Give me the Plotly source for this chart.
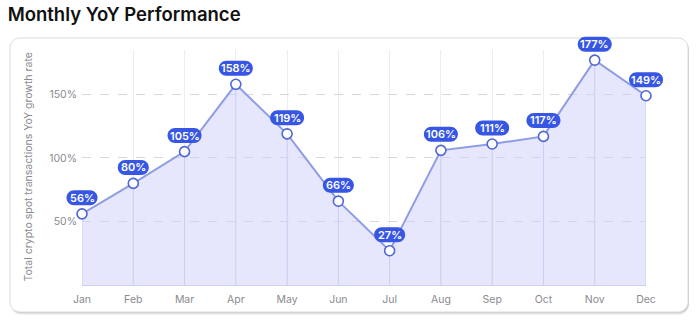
import plotly.graph_objects as go

months = ["Jan", "Feb", "Mar", "Apr", "May", "Jun", "Jul", "Aug", "Sep", "Oct", "Nov", "Dec"]
growth = [56, 80, 105, 158, 119, 66, 27, 106, 111, 117, 177, 149]
y_ticks = [50, 100, 150]
y_tick_text = ["50%", "100%", "150%"]

W, H = 697, 325
M_L, M_R, M_T, M_B = 82, 51, 50, 40
Y_MAX = 185
X_MAX = len(months) - 1

LINE = "#8e9ce4"
MARK_EDGE = "#4f66d6"
PILL = "#3656e3"
FILL = "rgba(210,212,250,0.55)"
DROP = "#c6c9e8"
GRID = "#ececf2"
TXT_GREY = "#8a8a8f"

fig = go.Figure()

# drop lines from the baseline to every point
dx, dy = [], []
for m, v in zip(months, growth):
    dx += [m, m, None]
    dy += [0, v, None]
fig.add_trace(go.Scatter(x=dx, y=dy, mode="lines", line=dict(color=DROP, width=1),
                         hoverinfo="skip", showlegend=False))

# filled growth line
fig.add_trace(go.Scatter(
    x=months, y=growth, mode="lines+markers", fill="tozeroy", fillcolor=FILL,
    line=dict(color=LINE, width=2),
    marker=dict(size=10, color="white", line=dict(color=MARK_EDGE, width=1.6)),
    cliponaxis=False, showlegend=False,
))


def rounded_rect(l, r, t, b, rad):
    k = 0.5523 * rad
    return (
        f"M {l + rad},{t} L {r - rad},{t} "
        f"C {r - rad + k},{t} {r},{t - rad + k} {r},{t - rad} "
        f"L {r},{b + rad} "
        f"C {r},{b + rad - k} {r - rad + k},{b} {r - rad},{b} "
        f"L {l + rad},{b} "
        f"C {l + rad - k},{b} {l},{b + rad - k} {l},{b + rad} "
        f"L {l},{t - rad} "
        f"C {l},{t - rad + k} {l + rad - k},{t} {l + rad},{t} Z"
    )


shapes = []
annotations = []

# card behind the chart (soft shadow + white panel with a light border)
card_l, card_r = 10 - M_L, 688 - M_L
card_t, card_b = (H - M_B) - 38, (H - M_B) - 312

for off, alpha in [(3, 0.05), (2, 0.07), (1, 0.09)]:
    shapes.append(dict(
        type="path", xref="paper", yref="paper", xsizemode="pixel", ysizemode="pixel",
        xanchor=0, yanchor=0, layer="below",
        path=rounded_rect(card_l + 1, card_r + 1, card_t - off, card_b - off, 10),
        fillcolor=f"rgba(0,0,0,{alpha})", line=dict(width=0),
    ))
shapes.append(dict(
    type="path", xref="paper", yref="paper", xsizemode="pixel", ysizemode="pixel",
    xanchor=0, yanchor=0, layer="below",
    path=rounded_rect(card_l, card_r, card_t, card_b, 10),
    fillcolor="white", line=dict(color="#dcdce0", width=1),
))

# value pills above each point (paper-anchored so they are never clipped)
for i, (m, v) in enumerate(zip(months, growth)):
    label = f"{v}%"
    hw = (22 + 3 * len(label)) / 2
    px, py = i / X_MAX, v / Y_MAX
    shapes.append(dict(
        type="path", xref="paper", yref="paper", xsizemode="pixel", ysizemode="pixel",
        xanchor=px, yanchor=py, layer="above",
        path=rounded_rect(-hw, hw, 16 + 7.5, 16 - 7.5, 7.5),
        fillcolor=PILL, line=dict(width=0),
    ))
    annotations.append(dict(
        x=px, y=py, xref="paper", yref="paper", text=label, showarrow=False, yshift=16,
        font=dict(family="Inter", size=11, color="white", weight=600),
        xanchor="center", yanchor="middle",
    ))

# rotated axis title
annotations.append(dict(
    xref="paper", yref="paper", x=(28 - M_L) / (W - M_L - M_R), y=0.5,
    text="Total crypto spot transactions YoY growth rate", showarrow=False,
    textangle=-90, xanchor="center", yanchor="middle",
    font=dict(family="Inter", size=10.5, color=TXT_GREY),
))

fig.update_layout(
    width=W, height=H,
    margin=dict(l=M_L, r=M_R, t=M_T, b=M_B),
    paper_bgcolor="white", plot_bgcolor="rgba(0,0,0,0)",
    title=dict(text="Monthly YoY Performance", x=0.011, xanchor="left",
               y=0.955, yanchor="middle", xref="container", yref="container",
               font=dict(family="Inter", size=18.5, color="#111", weight=600)),
    shapes=shapes, annotations=annotations,
    showlegend=False,
)
fig.update_xaxes(
    type="category", range=[0, X_MAX], showgrid=True, gridcolor=GRID, gridwidth=1,
    showline=False, zeroline=False, ticks="",
    tickfont=dict(family="Inter", size=10.5, color=TXT_GREY), ticklabelstandoff=6,
)
fig.update_yaxes(
    range=[0, Y_MAX], tickvals=y_ticks, ticktext=y_tick_text,
    showgrid=True, gridcolor="#d6d6dc", griddash="dash", gridwidth=1,
    zeroline=True, zerolinecolor="#cdd0ee", zerolinewidth=1,
    showline=False, ticks="",
    tickfont=dict(family="Inter", size=10.5, color=TXT_GREY), ticklabelstandoff=4,
)

fig.write_html("out.html")
